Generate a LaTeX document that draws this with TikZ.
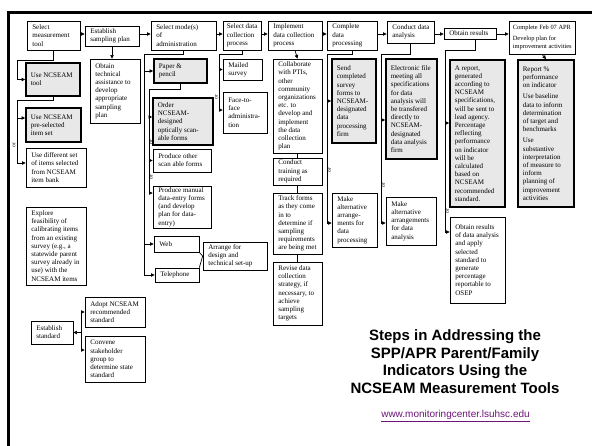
\documentclass[tikz,border=0pt]{standalone}
\usepackage{fontspec}
\setmainfont{Liberation Serif}
\newfontfamily\titlefont{Liberation Sans}
\usetikzlibrary{arrows.meta,shadows}
\definecolor{urlc}{RGB}{110,20,120}
\definecolor{boxgray}{RGB}{232,232,232}
\tikzset{
  nbox/.style={draw=black, line width=0.7pt, fill=white, rectangle, inner sep=0pt,
    drop shadow={shadow xshift=0.8pt, shadow yshift=-0.8pt, fill=black!55}},
  gbox/.style={draw=black, line width=1.8pt, fill=boxgray, rectangle, inner sep=0pt},
  txt/.style={font=\fontsize{7}{8.2}\selectfont, align=left, inner sep=0pt},
  smalltxt/.style={font=\fontsize{6.4}{8.2}\selectfont},
  conn/.style={line width=0.7pt, draw=black},
  arr/.style={conn, -{Triangle[length=3.6pt,width=3.4pt]}},
  orlbl/.style={font=\fontsize{5.5}{5.5}\selectfont, rotate=90, inner sep=0pt},
}
\newcommand\flowbox[8][]{%
  \node[#2, minimum width={#6-#4}, minimum height={#7-#5}] (#3) at ({(#4+#6)/2},{(#5+#7)/2}) {};
  \node[txt, anchor=west, #1] (#3-t) at ([xshift=5.5pt]#3.west) {#8};
}
\begin{document}
\begin{tikzpicture}[x=1pt,y=-1pt]
\useasboundingbox (0,0) rectangle (592,446);
% frame
\draw[line width=3pt] (8.5,446) -- (8.5,12.5) -- (592,12.5);

% top row
\flowbox{nbox}{sel}{27}{21}{80}{50}{Select\\measurement\\tool}
\flowbox{nbox}{est}{85}{26}{139}{46}{Establish\\sampling plan}
\flowbox{nbox}{mode}{151}{21}{216}{50}{Select mode(s)\\of\\administration}
\flowbox[xshift=-1.5pt]{nbox}{datac}{223}{21}{261}{50}{Select data\\collection\\process}
\flowbox{nbox}{impl}{268}{21}{322}{50}{Implement\\data collection\\process}
\flowbox{nbox}{comp}{327}{21}{377}{50}{Complete\\data\\processing}
\flowbox{nbox}{cond}{387}{21}{434}{43}{Conduct data\\analysis}
\flowbox{nbox}{obt}{444}{28}{496}{39}{Obtain results}
\flowbox[smalltxt,xshift=-1.5pt]{nbox}{apr}{509}{21}{575}{54}{Complete Feb 07 APR\\[2pt]Develop plan for\\improvement activities}

% column 1
\flowbox{gbox}{usetool}{26}{63}{80}{96}{Use NCSEAM\\tool}
\flowbox{gbox}{pre}{26}{108}{81}{142}{Use NCSEAM\\pre-selected\\item set}
\flowbox{nbox}{diff}{26}{148}{86}{187}{Use different set\\of items selected\\from NCSEAM\\item bank}
\flowbox{nbox}{expl}{26}{207}{86}{285}{Explore\\feasibility of\\calibrating items\\from an existing\\survey  (e.g., a\\statewide parent\\survey already in\\use) with the\\NCSEAM items}
\flowbox{nbox}{tech}{90}{59}{140}{123}{Obtain\\technical\\assistance to\\develop\\appropriate\\sampling\\plan}

% mode column
\flowbox{gbox}{paper}{154}{59}{207}{83}{Paper \&\\pencil}
\flowbox{gbox}{order}{153}{98}{213}{145}{Order\\NCSEAM-\\designed\\optically scan-\\able forms}
\flowbox{nbox}{prodother}{153}{149}{211}{172}{Produce other\\scan able forms}
\flowbox{nbox}{prodman}{153}{186}{211}{228}{Produce manual\\data-entry forms\\(and develop\\plan for data-\\entry)}
\flowbox{nbox}{web}{154}{236}{199}{252}{Web}
\flowbox{nbox}{tel}{155}{268}{199}{282}{Telephone}
\flowbox{nbox}{arrange}{203}{242}{267}{270}{Arrange for\\design and\\technical set-up}

% data collection column
\flowbox{nbox}{mailed}{223}{59}{262}{80}{Mailed\\survey}
\flowbox{nbox}{face}{223}{92}{267}{133}{Face-to-\\face\\administra-\\tion}

% implement column
\flowbox{nbox}{collab}{273}{59}{322}{153}{Collaborate\\with PTIs,\\other\\community\\organizations\\etc. to\\develop and\\implement\\the data\\collection\\plan}
\flowbox{nbox}{train}{273}{158}{322}{185}{Conduct\\training as\\required}
\flowbox{nbox}{track}{273}{193}{322}{254}{Track forms\\as they come\\in to\\determine if\\sampling\\requirements\\are being met}
\flowbox{nbox}{revise}{273}{262}{322}{325}{Revise data\\collection\\strategy, if\\necessary, to\\achieve\\sampling\\targets}

% processing column
\flowbox{gbox}{send}{332}{59}{376}{143}{Send\\completed\\survey\\forms to\\NCSEAM-\\designated\\data\\processing\\firm}
\flowbox{nbox}{alta}{332}{193}{377}{247}{Make\\alternative\\arrange-\\ments for\\data\\processing}

% analysis column
\flowbox{gbox}{elec}{386}{59}{437}{159}{Electronic file\\meeting all\\specifications\\for data\\analysis will\\be transfered\\directly to\\NCSEAM-\\designated\\data analysis\\firm}
\flowbox{nbox}{altb}{386}{197}{436}{245}{Make\\alternative\\arrangements\\for data\\analysis}

% results column
\flowbox{gbox}{report}{450}{60}{505}{207}{A report,\\generated\\according to\\NCSEAM\\specifications,\\will be sent to\\lead agency.\\Percentage\\reflecting\\performance\\on indicator\\will be\\calculated\\based on\\NCSEAM\\recommended\\standard.}
\flowbox{nbox}{obtres}{450}{217}{505}{303}{Obtain results\\of data analysis\\and apply\\selected\\standard to\\generate\\percentage\\reportable to\\OSEP}

% APR column
\flowbox{gbox}{pct}{518}{60}{574}{207}{Report \%\\performance\\on indicator\\[3pt]Use baseline\\data to inform\\determination\\of target and\\benchmarks\\[3pt]Use\\substantive\\interpretation\\of measure to\\inform\\planning of\\improvement\\activities}

% standard
\flowbox{nbox}{estd}{31}{321}{73}{344}{Establish\\standard}
\flowbox{nbox}{adopt}{85}{297}{145}{327}{Adopt NCSEAM\\recommended\\standard}
\flowbox{nbox}{convene}{85}{336}{145}{382}{Convene\\stakeholder\\group to\\determine state\\standard}

% junction coordinates
\coordinate (row) at (0,34);
\coordinate (j1) at (17,60);
\coordinate (j2) at (17,100);
\coordinate (jm) at (144,54);
\coordinate (jp) at (149,89);
\coordinate (jd) at (219,54);
\coordinate (jc) at (327,54);
\coordinate (jk) at (381,54);
\coordinate (jo) at (445,50);
\coordinate (brk) at (81,332.5);

% top row arrows
\draw[arr] (sel.east |- row) -- (est.west |- row);
\draw[arr] (est.east |- row) -- (mode.west |- row);
\draw[arr] (mode.east |- row) -- (datac.west |- row);
\draw[arr] (datac.east |- row) -- (impl.west |- row);
\draw[arr] (impl.east |- row) -- (comp.west |- row);
\draw[arr] (comp.east |- row) -- (cond.west |- row);
\draw[arr] (cond.east |- row) -- (obt.west |- row);
\draw[arr] (obt.east |- row) -- (apr.west |- row);

% column 1
\draw[arr] (sel.south) |- (j1) |- (usetool.west);
\draw[arr] (usetool.south) |- (j2) |- ([yshift=7pt]pre.west);
\draw[arr] (usetool.south) |- (j2) |- ([yshift=4.5pt]diff.west);
\node[orlbl] (or1) at (14,145) {or};
\draw[arr] (est.south) -- (tech.north -| est.south);

% mode column
\draw[arr] (mode.south) |- (jm) |- (paper.west);
\draw[arr] (mode.south) |- (jm) |- (web.west);
\draw[arr] (mode.south) |- (jm) |- (tel.west);
\draw[arr] (paper.south) |- (jp) |- ([yshift=4.5pt]order.west);
\draw[arr] (paper.south) |- (jp) |- (prodother.west);
\draw[arr] (paper.south) |- (jp) |- ([yshift=14pt]prodman.west);
\node[orlbl] (or2) at (151.3,142) {or};
\node[orlbl] (or3) at (151.3,177) {or};
\draw[conn] (web.south east) -- (arrange.west);
\draw[conn] (tel.north east) -- (arrange.west);

% data collection column
\draw[arr] (datac.south) |- (jd) |- (mailed.west);
\draw[arr] (datac.south) |- (jd) |- ([yshift=2.5pt]face.west);
\node[orlbl] (or4) at (216.3,97) {or};

% implement column
\draw[arr] (impl.south) -- (collab.north);
\draw[conn] (collab.south) -- (train.north);
\draw[conn] (train.south) -- (track.north);
\draw[conn] (track.south) -- (revise.north);

% processing column
\draw[arr] (comp.south) |- (jc) |- (send.west);
\draw[arr] (comp.south) |- (jc) |- ([yshift=-3pt]alta.west);
\node[orlbl] (or5) at (329.5,170) {or};

% analysis column
\draw[arr] (cond.south) |- (jk) |- ([yshift=-11pt]elec.west);
\draw[arr] (cond.south) |- (jk) |- ([yshift=-2pt]altb.west);
\node[orlbl] (or6) at (383.5,185) {or};

% results column
\draw[arr] ([xshift=5pt]obt.south) |- (jo) |- ([yshift=10.5pt]report.west);
\draw[arr] ([xshift=5pt]obt.south) |- (jo) |- ([yshift=28pt]obtres.west);
\node[orlbl] (or7) at (447.5,211) {or};

% APR column
\draw[arr] (apr.south) -- (pct.north);

% standard
\draw[arr] (brk) -- (estd.east);
\draw[arr] (brk) |- (adopt.west);
\draw[arr] (brk) |- ([yshift=9pt]convene.west);

% title
\node[font=\fontsize{15}{17.6}\titlefont\bfseries, align=center, inner sep=0pt] (title) at (455,361.5)
  {Steps in Addressing the\\SPP/APR Parent/Family\\Indicators Using the\\NCSEAM Measurement Tools};
\node[font=\fontsize{10}{12}\titlefont, text=urlc, inner sep=0pt] (url) at (455.5,416)
  {\underline{www.monitoringcenter.lsuhsc.edu}};
\end{tikzpicture}
\end{document}
